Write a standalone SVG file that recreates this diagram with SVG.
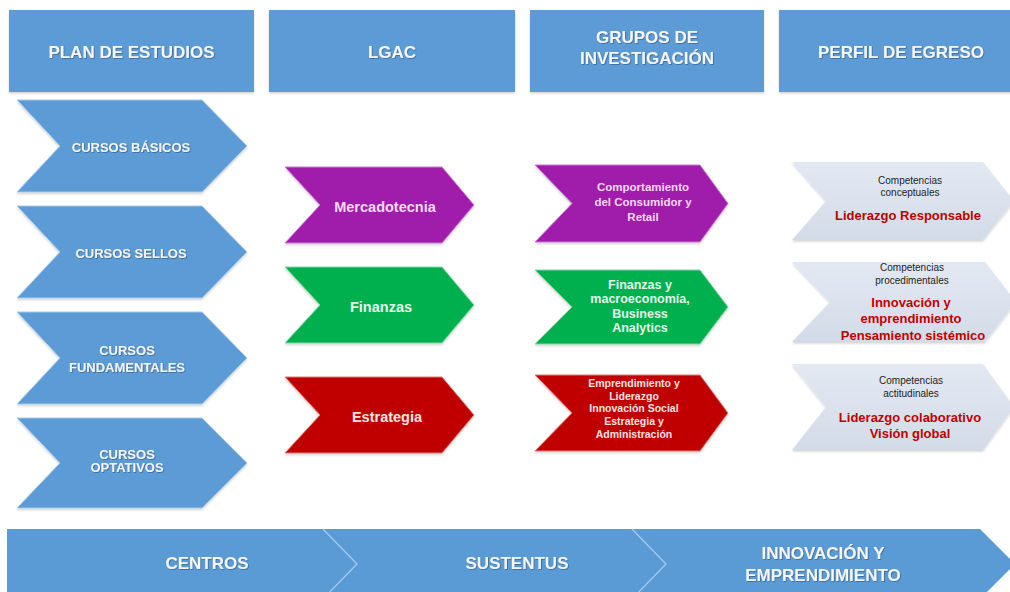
<svg xmlns="http://www.w3.org/2000/svg" width="1010" height="592" viewBox="0 0 1010 592">
<defs>
<filter id="ts" x="-10%" y="-30%" width="120%" height="160%">
<feDropShadow dx="0.8" dy="0.8" stdDeviation="0.6" flood-color="#1f3b5a" flood-opacity="0.55"/>
</filter>
<filter id="bs" x="-5%" y="-5%" width="110%" height="115%">
<feDropShadow dx="0" dy="1.5" stdDeviation="1.2" flood-color="#000" flood-opacity="0.18"/>
</filter>
<linearGradient id="lg" x1="0" y1="0" x2="0" y2="1">
<stop offset="0" stop-color="#e3e9f3"/>
<stop offset="1" stop-color="#d3dbe8"/>
</linearGradient>
</defs>
<style>
.blue{fill:#5b9bd5;}
.chev{fill:#5b9bd5;stroke:#a8cbeb;stroke-width:1;filter:url(#bs);}
.pur{fill:#a01fab;stroke:#c77fd0;stroke-width:1;filter:url(#bs);}
.grn{fill:#00b050;stroke:#7fd8a6;stroke-width:1;filter:url(#bs);}
.red{fill:#c00000;stroke:#e07a7a;stroke-width:1;filter:url(#bs);}
.lt{fill:url(#lg);filter:url(#bs);}
.hd{font-family:"Liberation Sans",Arial,sans-serif;font-weight:bold;font-size:17px;fill:#f3f6fa;text-anchor:middle;filter:url(#ts);}
.cl{font-family:"Liberation Sans",Arial,sans-serif;font-weight:bold;font-size:13px;fill:#f3f6fa;text-anchor:middle;filter:url(#ts);}
.mid{font-family:"Liberation Sans",Arial,sans-serif;font-weight:bold;font-size:14.5px;text-anchor:middle;}
.g1{font-family:"Liberation Sans",Arial,sans-serif;font-weight:bold;text-anchor:middle;}
.pk{fill:#f6d9f8;}
.gt{fill:#e4f7ea;}
.rt{fill:#fbe3e3;}
.bk{font-family:"Liberation Sans",Arial,sans-serif;font-size:10px;fill:#222;text-anchor:middle;}
.rd{font-family:"Liberation Sans",Arial,sans-serif;font-weight:bold;font-size:13px;fill:#c00000;text-anchor:middle;}
.sep{fill:none;stroke:#a9cdee;stroke-width:1.2;}
</style>
<rect width="1010" height="592" fill="#ffffff"/>

<g id="header-plan">
<rect class="blue" x="9" y="10" width="245" height="82" filter="url(#bs)"/>
<text class="hd" x="131.5" y="58">PLAN DE ESTUDIOS</text>
</g>
<g id="header-lgac">
<rect class="blue" x="269" y="10" width="246" height="82" filter="url(#bs)"/>
<text class="hd" x="392" y="58">LGAC</text>
</g>
<g id="header-grupos">
<rect class="blue" x="530" y="10" width="234" height="82" filter="url(#bs)"/>
<text class="hd" x="647" y="43">GRUPOS DE</text>
<text class="hd" x="647" y="64">INVESTIGACIÓN</text>
</g>
<g id="header-perfil">
<rect class="blue" x="779" y="10" width="245" height="82" filter="url(#bs)"/>
<text class="hd" x="901" y="58">PERFIL DE EGRESO</text>
</g>

<g id="cursos-basicos">
<polygon class="chev" points="17,100 202,100 247,146 202,192 17,192 60,146"/>
<text class="cl" x="131" y="151.5">CURSOS BÁSICOS</text>
</g>
<g id="cursos-sellos">
<polygon class="chev" points="17,206 202,206 247,252 202,298 17,298 60,252"/>
<text class="cl" x="131" y="257.5">CURSOS SELLOS</text>
</g>
<g id="cursos-fundamentales">
<polygon class="chev" points="17,312 202,312 247,358 202,404 17,404 60,358"/>
<text class="cl" x="127" y="354.5">CURSOS</text>
<text class="cl" x="127" y="371.5">FUNDAMENTALES</text>
</g>
<g id="cursos-optativos">
<polygon class="chev" points="17,418 202,418 247,463 202,508 17,508 60,463"/>
<text class="cl" x="127" y="458.5">CURSOS</text>
<text class="cl" x="127" y="471.5">OPTATIVOS</text>
</g>

<g id="lgac-mercadotecnia">
<polygon class="pur" points="285,167 442,167 474,205 442,243 285,243 320,205"/>
<text class="mid pk" x="385" y="212">Mercadotecnia</text>
</g>
<g id="lgac-finanzas">
<polygon class="grn" points="285,267 442,267 474,305 442,343 285,343 320,305"/>
<text class="mid gt" x="381" y="312">Finanzas</text>
</g>
<g id="lgac-estrategia">
<polygon class="red" points="285,377 442,377 474,415 442,453 285,453 320,415"/>
<text class="mid rt" x="387" y="422">Estrategia</text>
</g>

<g id="grupo-consumidor">
<polygon class="pur" points="535,165 700,165 728,203.5 700,242 535,242 572,203.5"/>
<text class="g1 pk" font-size="11.5" x="643" y="191">Comportamiento</text>
<text class="g1 pk" font-size="11.5" x="643" y="206">del Consumidor y</text>
<text class="g1 pk" font-size="11.5" x="643" y="221">Retail</text>
</g>
<g id="grupo-finanzas">
<polygon class="grn" points="535,270 700,270 728,307 700,344 535,344 572,307"/>
<text class="g1 gt" font-size="12.5" x="640" y="288.5">Finanzas y</text>
<text class="g1 gt" font-size="12.5" x="640" y="302.5">macroeconomía,</text>
<text class="g1 gt" font-size="12.5" x="640" y="317.5">Business</text>
<text class="g1 gt" font-size="12.5" x="640" y="331.5">Analytics</text>
</g>
<g id="grupo-emprendimiento">
<polygon class="red" points="535,375 700,375 728,413 700,451 535,451 572,413"/>
<text class="g1 rt" font-size="10.5" x="634" y="387">Emprendimiento y</text>
<text class="g1 rt" font-size="10.5" x="634" y="399.5">Liderazgo</text>
<text class="g1 rt" font-size="10.5" x="634" y="412">Innovación Social</text>
<text class="g1 rt" font-size="10.5" x="634" y="425">Estrategia y</text>
<text class="g1 rt" font-size="10.5" x="634" y="438">Administración</text>
</g>

<g id="competencias-conceptuales">
<polygon class="lt" points="792,162 983,162 1014,201 983,240 792,240 826,201"/>
<text class="bk" x="910" y="184">Competencias</text>
<text class="bk" x="910" y="196">conceptuales</text>
<text class="rd" x="908" y="219.5">Liderazgo Responsable</text>
</g>
<g id="competencias-procedimentales">
<polygon class="lt" points="792,262 985,262 1016,302 985,342 792,342 830,302"/>
<text class="bk" x="912" y="271">Competencias</text>
<text class="bk" x="912" y="284">procedimentales</text>
<text class="rd" x="911" y="306.5">Innovación y</text>
<text class="rd" x="911" y="322.5">emprendimiento</text>
<text class="rd" x="913" y="339.5">Pensamiento sistémico</text>
</g>
<g id="competencias-actitudinales">
<polygon class="lt" points="792,364 983,364 1014,407 983,450 792,450 826,407"/>
<text class="bk" x="911" y="384">Competencias</text>
<text class="bk" x="911" y="397">actitudinales</text>
<text class="rd" x="910" y="421.5">Liderazgo colaborativo</text>
<text class="rd" x="910" y="437.5">Visión global</text>
</g>

<g id="banda-inferior">
<polygon class="blue" points="7,529 980,529 1015,564 980,599 7,599"/>
<polyline class="sep" points="323,529 357,564 323,599"/>
<polyline class="sep" points="632,529 666,564 632,599"/>
</g>
<g id="centros">
<text class="hd" x="207" y="569">CENTROS</text>
</g>
<g id="sustentus">
<text class="hd" x="517" y="569">SUSTENTUS</text>
</g>
<g id="innovacion">
<text class="hd" x="823" y="559">INNOVACIÓN Y</text>
<text class="hd" x="823" y="581">EMPRENDIMIENTO</text>
</g>

<g id="connectors"></g>
</svg>
